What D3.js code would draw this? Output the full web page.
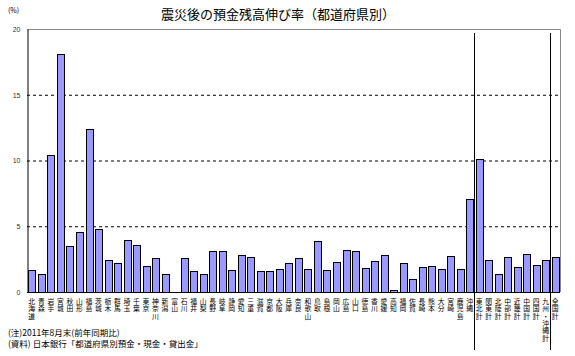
<!DOCTYPE html>
<html>
<head>
<meta charset="utf-8">
<script src="https://cdn.jsdelivr.net/npm/d3@7"></script>
<style>
  body { margin: 0; background: #fff; }
  text { font-family: "Noto Sans CJK JP", sans-serif; }
</style>
</head>
<body>
<div id="chart"></div>
<script>
const prefectures = ["北海道","青森","岩手","宮城","秋田","山形","福島","茨城","栃木","群馬",
  "埼玉","千葉","東京","神奈川","新潟","富山","石川","福井","山梨","長野",
  "岐阜","静岡","愛知","三重","滋賀","京都","大阪","兵庫","奈良","和歌山",
  "鳥取","島根","岡山","広島","山口","徳島","香川","愛媛","高知","福岡",
  "佐賀","長崎","熊本","大分","宮崎","鹿児島","沖縄"]
const prefValues = [1.7, 1.35, 10.4, 18.1, 3.5, 4.55, 12.4, 4.8, 2.45, 2.2,
  3.95, 3.55, 2.0, 2.6, 1.4, 0, 2.55, 1.58, 1.35, 3.08,
  3.08, 1.65, 2.85, 2.65, 1.58, 1.58, 1.72, 2.2, 2.56, 1.72,
  3.85, 1.65, 2.25, 3.23, 3.08, 1.8, 2.32, 2.78, 0.13, 2.18,
  0.96, 1.88, 1.94, 1.72, 2.7, 1.72, 7.05]
const regions = ["東北計","関東計","北陸計","中部計","近畿計","中国計","四国計","九州・沖縄計"]
const regionValues = [10.1, 2.42, 1.36, 2.65, 1.88, 2.87, 2.03, 2.42]
const totalLabel = ["全国計"]
const totalValue = [2.65]
const yTicks = [0, 5, 10, 15, 20]

const width = 575, height = 356,
      margin = {top: 29, right: 15, bottom: 64, left: 27}

const data = prefectures.map((name, i) => ({name, value: prefValues[i]}))
  .concat(regions.map((name, i) => ({name, value: regionValues[i]})))
  .concat(totalLabel.map((name, i) => ({name, value: totalValue[i]})))

const svg = d3.select("#chart").append("svg")
  .attr("width", width)
  .attr("height", height)

let x = d3.scaleBand()
  .domain(data.map(d => d.name))
  .range([margin.left, width - margin.right])
  .paddingInner(0.3)
  .paddingOuter(0.15)

let y = d3.scaleLinear()
  .domain([0, 20])
  .range([height - margin.bottom, margin.top])

// frame (top/right in gray)
svg.append("path")
  .attr("d", `M${margin.left},${margin.top + 0.5}H${width - margin.right + 0.5}V${y(0)}`)
  .attr("fill", "none")
  .attr("stroke", "#888")

// dashed grid
svg.append("g")
  .selectAll("line")
  .data(yTicks.filter(t => t > 0 && t < 20))
  .join("line")
    .attr("x1", margin.left)
    .attr("x2", width - margin.right)
    .attr("y1", d => y(d) + 0.5)
    .attr("y2", d => y(d) + 0.5)
    .attr("stroke", "#000")
    .attr("stroke-dasharray", "3,3")

// bars
svg.append("g")
  .selectAll("rect")
  .data(data)
  .join("rect")
    .attr("x", d => Math.round(x(d.name)) + 0.5)
    .attr("y", d => Math.round(y(d.value)) + 0.5)
    .attr("width", Math.round(x.bandwidth()))
    .attr("height", d => Math.max(0, Math.round(y(0)) - Math.round(y(d.value))))
    .attr("fill", "#9999ff")
    .attr("stroke", d => d.value > 0 ? "#000" : "none")

// group separators
const step = x.step()
const sep = [prefectures.length, prefectures.length + regions.length]
svg.append("g")
  .selectAll("line")
  .data(sep)
  .join("line")
    .attr("x1", d => Math.round(x(data[d].name) - step * x.paddingInner() / 2) + 0.5)
    .attr("x2", d => Math.round(x(data[d].name) - step * x.paddingInner() / 2) + 0.5)
    .attr("y1", margin.top + 4)
    .attr("y2", 350)
    .attr("stroke", "#000")

// y axis
let yAxis = g => g
  .attr("transform", `translate(${margin.left + 0.5},0)`)
  .call(d3.axisLeft(y).tickValues(yTicks).tickSize(0).tickPadding(7))
  .call(g => g.select(".domain").attr("stroke", "#000"))
  .call(g => g.selectAll("text").attr("font-size", 7).attr("fill", "#333")
    .style("font-family", "Arial, 'Liberation Sans', sans-serif"))

svg.append("g").call(yAxis)

// x axis line
svg.append("line")
  .attr("x1", margin.left)
  .attr("x2", width - margin.right)
  .attr("y1", Math.round(y(0)) + 0.5)
  .attr("y2", Math.round(y(0)) + 0.5)
  .attr("stroke", "#000")

// vertical category labels, one char per line
const labels = svg.append("g")
  .selectAll("text")
  .data(data)
  .join("text")
    .attr("font-size", 6.8)
    .attr("fill", "#000")
    .attr("text-anchor", "middle")

labels.selectAll("tspan")
  .data(d => Array.from(d.name).map(c => ({c, cx: x(d.name) + x.bandwidth() / 2})))
  .join("tspan")
    .attr("x", d => d.cx)
    .attr("y", (d, i) => 304 + i * 7.3)
    .text(d => d.c)

// title and notes
svg.append("text")
  .attr("x", 278)
  .attr("y", 19)
  .attr("text-anchor", "middle")
  .attr("font-size", 13)
  .text("震災後の預金残高伸び率（都道府県別）")

svg.append("text")
  .attr("x", 8)
  .attr("y", 13)
  .attr("font-size", 7)
  .text("(%)")

svg.append("text")
  .attr("x", 8)
  .attr("y", 336)
  .attr("font-size", 8.5)
  .text("(注)2011年8月末(前年同期比)")

svg.append("text")
  .attr("x", 8)
  .attr("y", 347)
  .attr("font-size", 8.5)
  .text("(資料) 日本銀行「都道府県別預金・現金・貸出金」")
</script>
</body>
</html>
